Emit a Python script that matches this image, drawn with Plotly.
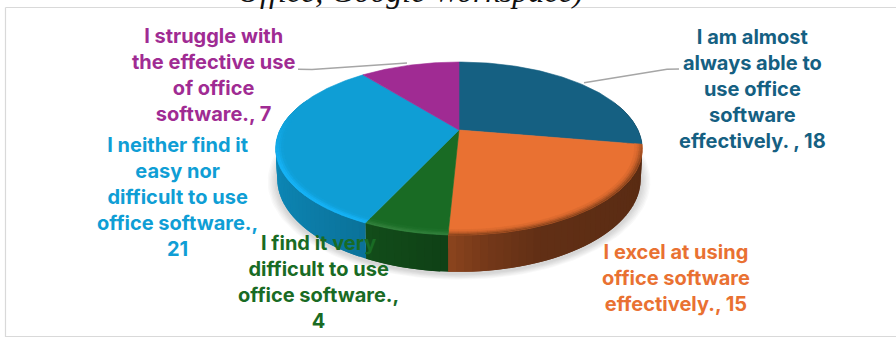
import numpy as np
import plotly.graph_objects as go

# Survey responses, clockwise from twelve o'clock
values = [18, 15, 4, 21, 7]
label_lines = [
    ["I am almost", "always able to", "use office", "software", "effectively. "],
    ["I excel at using", "office software", "effectively."],
    ["I find it very", "difficult to use", "office software."],
    ["I neither find it", "easy nor", "difficult to use", "office software."],
    ["I struggle with", "the effective use", "of office", "software."],
]
# Where the value goes: same line as the last words, or on its own line
value_own_line = [False, False, True, True, False]
colors = ["#156082", "#E97132", "#196B24", "#0F9ED5", "#A02B93"]
label_centers = [(752, 89), (676, 278), (318, 282), (177, 197), (213, 75)]
heading = "Office, Google Workspace)"

WIDTH, HEIGHT = 896, 338
CX, CY = 459.0, 130.0
SX = 179.0
TILT_A, TILT_C = -54.7, 0.214
DEPTH = 29.0


def project(theta, radius=1.0, drop=0.0):
    """Perspective projection of a point on the tilted disc (theta clockwise from top)."""
    u = radius * np.sin(theta)
    v = radius * np.cos(theta)
    w = 1 + TILT_C * v
    x = CX + SX * u / w
    y = (CY + TILT_A * v) / w
    if drop:
        x = CX + (x - CX) * (1 - 0.008 * drop)
        y = y + drop * DEPTH / w
    return x, y


def hex_rgb(c):
    return np.array([int(c[i:i + 2], 16) for i in (1, 3, 5)], dtype=float)


def mix(c, target, t):
    rgb = hex_rgb(c) * (1 - t) + np.array(target, dtype=float) * t
    return "rgb({:.0f},{:.0f},{:.0f})".format(*rgb)


def scale(c, s):
    return "rgb({:.0f},{:.0f},{:.0f})".format(*(hex_rgb(c) * s))


fig = go.Figure()


def poly(xs, ys, fill, width=0.6):
    fig.add_trace(go.Scatter(
        x=list(xs), y=list(ys), mode="lines", fill="toself", fillcolor=fill,
        line=dict(color=fill if width else "rgba(0,0,0,0)", width=width),
        hoverinfo="skip", showlegend=False))


total = sum(values)
edges = np.cumsum([0] + values) / total * 2 * np.pi

# Soft ground shadow under the disc
ring = np.linspace(0, 2 * np.pi, 181)
for k in range(7):
    grow = 1.0 + 0.0075 * (7 - k)
    x, y = project(ring, 1.0, 1.0)
    poly(CX + (x - CX) * grow, y + 2 + (y - 170) * (grow - 1) * 1.1,
         "rgba(60,60,60,0.03)", width=0)


def side_shade(theta):
    u = np.sin(theta)
    return float(np.interp(u, [-1.0, -0.42, -0.05, 0.12, 0.35, 1.0], [0.86, 0.72, 0.6, 0.5, 0.42, 0.38]))


# Side wall: narrow shaded panels along the front of the rim, each one
# overlapping the next so no seams show between them
for i, c in enumerate(colors):
    a0, a1 = edges[i], edges[i + 1]
    steps = max(2, int((a1 - a0) / np.radians(2.0)))
    grid = np.linspace(a0, a1, steps + 1)
    pairs = list(zip(grid[:-1], grid[1:]))
    pitch = grid[1] - grid[0]
    for t0, t1 in pairs:
        mid = (t0 + t1) / 2
        if np.cos(mid) > 0.35:
            continue
        s = side_shade(mid)
        lead = min(t1 + pitch, a1)
        xa, ya = project(t0, 1.0, 0.0)
        xb, yb = project(lead, 1.0, 0.0)
        xc, yc = project(lead, 1.0, 1.0)
        xd, yd = project(t0, 1.0, 1.0)
        poly([xa, xb, xc, xd, xa], [ya, yb, yc, yd, ya], scale(c, s), width=0)

# Top face of every slice
for i, c in enumerate(colors):
    th = np.linspace(edges[i], edges[i + 1], max(3, int(values[i] * 6)))
    x, y = project(th)
    poly(np.r_[CX, x, CX], np.r_[CY, y, CY], c)

# Bevelled rim on the top face, strongest along the front
rim_bands = [(0.99, 1.0), (0.98, 0.99), (0.97, 0.98), (0.96, 0.97)]
for i, c in enumerate(colors):
    a0, a1 = edges[i], edges[i + 1]
    steps = max(2, int((a1 - a0) / np.radians(2.5)))
    grid = np.linspace(a0, a1, steps + 1)
    for t0, t1 in zip(grid[:-1], grid[1:]):
        mid = (t0 + t1) / 2
        front = np.clip((0.2 - np.cos(mid)) / 0.6, 0, 1)
        if i == 0 or front <= 0:
            continue
        for b, (r0, r1) in enumerate(rim_bands):
            if i == 1:
                col = mix(c, (80, 40, 15), front * [0.6, 0.4, 0.2, 0.08][b])
            elif i == 2:
                col = mix(c, (110, 180, 120), front * [0.3, 0.22, 0.12, 0.05][b])
            else:
                col = mix(c, (24, 184, 255), front * [0.8, 0.7, 0.4, 0.12][b])
            xa, ya = project(np.array([t0, t1]), r1)
            xb, yb = project(np.array([t1, t0]), r0)
            poly(np.r_[xa, xb, xa[0]], np.r_[ya, yb, ya[0]], col)

# Leader lines from the two upper labels
leaders = [
    ([584, 667, 679], [82.7, 69.3, 69]),
    ([298, 312, 407], [69.3, 69.6, 63]),
]
for lx, ly in leaders:
    fig.add_trace(go.Scatter(x=lx, y=ly, mode="lines", hoverinfo="skip", showlegend=False,
                             line=dict(color="#a6a6a6", width=1.5)))

# Category labels with their values
for lines, val, own, col, (lx, ly) in zip(label_lines, values, value_own_line, colors, label_centers):
    body = list(lines)
    if own:
        body[-1] = body[-1] + ","
        body.append(str(val))
    else:
        body[-1] = body[-1] + f", {val}"
    fig.add_annotation(x=lx, y=ly, text="<br>".join(body), showarrow=False, xref="x", yref="y",
                       xanchor="center", yanchor="middle", align="center",
                       font=dict(family="Inter", size=20, color=col, weight="bold"))

# Cropped heading above the chart area
fig.add_annotation(x=410, y=0, yshift=9, text=f"<i>{heading}</i>", showarrow=False, xref="x", yref="y",
                   xanchor="center", yanchor="middle",
                   font=dict(family="Liberation Serif", size=32, color="#111111"))

frame = "#d9d9d9"
for x0, y0, x1, y1 in [(5.5, 7.5, 896, 7.5), (5.5, 7.5, 5.5, 337), (5.5, 336.5, 896, 336.5)]:
    fig.add_shape(type="line", x0=x0, y0=y0, x1=x1, y1=y1, xref="x", yref="y",
                  line=dict(color=frame, width=1.2))

fig.update_layout(
    width=WIDTH, height=HEIGHT, margin=dict(l=0, r=0, t=0, b=0),
    paper_bgcolor="white", plot_bgcolor="white", showlegend=False,
    xaxis=dict(range=[0, WIDTH], visible=False, fixedrange=True),
    yaxis=dict(range=[HEIGHT, 0], visible=False, fixedrange=True),
)
fig.write_html("out.html", config={"displayModeBar": False})
